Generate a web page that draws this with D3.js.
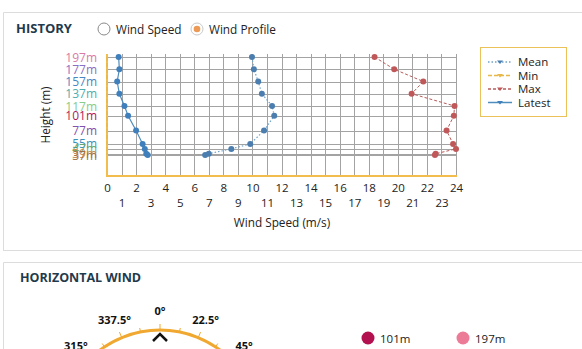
<!DOCTYPE html>
<html>
<head>
<meta charset="utf-8">
<script src="https://cdn.jsdelivr.net/npm/d3@7"></script>
<style>
  html, body { margin: 0; padding: 0; background: #fff; }
  svg { display: block; font-family: "Open Sans", "Noto Sans", sans-serif; }
</style>
</head>
<body>
<svg id="chart" width="582" height="349"></svg>
<script>
// Measurement heights (m) and wind speed profiles (m/s)
const heights   = [197, 177, 157, 137, 117, 101, 77, 55, 47, 39, 37];
const heightColors = ["#d97ba6", "#8b6fc2", "#4a86c2", "#4eaeae", "#86cc8a", "#b0185c",
                      "#8452ac", "#3a92bb", "#6aa870", "#c98a4e", "#a3703e"];
const meanSpeed   = [9.97, 10.1, 10.4, 10.65, 11.35, 11.5, 10.8, 9.85, 8.55, 7.0, 6.75];
const minSpeed    = [0, 0, 0, 0, 0, 0, 0, 0, 0, 0, 0];
const maxSpeed    = [18.4, 19.75, 21.75, 20.95, 23.9, 23.85, 23.35, 23.8, 24.0, 22.6, 22.55];
const latestSpeed = [0.8, 0.85, 0.7, 0.85, 1.2, 1.45, 2.0, 2.45, 2.6, 2.7, 2.8];
const evenTicks = [0, 2, 4, 6, 8, 10, 12, 14, 16, 18, 20, 22, 24];
const oddTicks  = [1, 3, 5, 7, 9, 11, 13, 15, 17, 19, 21, 23];
const compassLabels = [315, 337.5, 0, 22.5, 45];
const windLegend = ["101m", "197m"];
const windLegendColors = ["#b3104f", "#ec7b98"];

const svg = d3.select("#chart");

// ---- Card frames ----
const frame = svg.append("g").attr("stroke", "#dcdcdc").attr("fill", "none");
frame.append("path").attr("d", "M3.5,250.5 V12.5 H582");
frame.append("path").attr("d", "M3,250.5 H582");
frame.append("path").attr("d", "M3.5,349 V262.5 H582");

// ---- Header ----
svg.append("text").attr("x", 16).attr("y", 33)
  .attr("font-size", 13).attr("font-weight", 700).attr("fill", "#1f3a4d")
  .text("HISTORY");

const radios = [
  { x: 104, label: "Wind Speed", on: false },
  { x: 197, label: "Wind Profile", on: true }
];
radios.forEach(r => {
  svg.append("circle").attr("cx", r.x).attr("cy", 29).attr("r", 6)
    .attr("fill", "#fff").attr("stroke", r.on ? "#c9c9c9" : "#8a8a8a").attr("stroke-width", 1);
  if (r.on) svg.append("circle").attr("cx", r.x).attr("cy", 29).attr("r", 3.3).attr("fill", "#ec9a55");
  svg.append("text").attr("x", r.x + 12).attr("y", 33.5)
    .attr("font-size", 11.8).attr("fill", "#222").text(r.label);
});

// ---- Profile chart ----
const x = d3.scaleLinear().domain([0, 24]).range([107, 456]);
const y = d3.scaleLinear().domain([37, 197]).range([155, 57]);
const plotBottom = 176, plotTop = 54;

const grid = svg.append("g").attr("stroke", "#a3a3a3").attr("stroke-width", 1);
d3.range(0, 25).forEach(v => {
  grid.append("line").attr("x1", Math.round(x(v)) + 0.5).attr("x2", Math.round(x(v)) + 0.5)
    .attr("y1", plotTop).attr("y2", plotBottom);
});
heights.forEach(h => {
  grid.append("line").attr("x1", x(0)).attr("x2", x(24) + 1)
    .attr("y1", Math.round(y(h)) + 0.5).attr("y2", Math.round(y(h)) + 0.5);
});

// Orange axis frame
svg.append("path").attr("d", `M${x(0)},${plotTop} V${plotBottom} H${x(24) + 1}`)
  .attr("fill", "none").attr("stroke", "#f2bd4c").attr("stroke-width", 2);

// Y labels
svg.append("g").selectAll("text").data(heights).join("text")
  .attr("x", 97).attr("y", d => y(d) + 4.5)
  .attr("text-anchor", "end").attr("font-size", 12)
  .attr("fill", (d, i) => heightColors[i])
  .text(d => d + "m");

svg.append("text").attr("transform", "translate(50,115) rotate(-90)")
  .attr("text-anchor", "middle").attr("font-size", 11.8).attr("fill", "#222")
  .text("Height (m)");

// X axis labels in two staggered rows
const axisEven = d3.axisBottom(x).tickValues(evenTicks).tickSize(0).tickPadding(0).tickFormat(d3.format("d"));
const axisOdd  = d3.axisBottom(x).tickValues(oddTicks).tickSize(0).tickPadding(0).tickFormat(d3.format("d"));
[[axisEven, 184], [axisOdd, 199]].forEach(([ax, ty]) => {
  const g = svg.append("g").attr("transform", `translate(0,${ty})`).call(ax);
  g.select(".domain").remove();
  g.selectAll("text").attr("font-size", 11.5).attr("fill", "#222")
    .attr("font-family", "'Open Sans', 'Noto Sans', sans-serif");
});
svg.append("text").attr("x", 282).attr("y", 227).attr("text-anchor", "middle")
  .attr("font-size", 11.8).attr("fill", "#222").text("Wind Speed (m/s)");

// Series
const series = [
  { name: "Mean",   values: meanSpeed,   line: "#6fa3c9", dot: "#4b7eae", dash: "1.5,2", width: 1.2 },
  { name: "Min",    values: minSpeed,    line: "#e8b84a", dot: "#e8b84a", dash: "4,2",   width: 1.5 },
  { name: "Max",    values: maxSpeed,    line: "#b85b5b", dot: "#c0585a", dash: "3,2",   width: 1 },
  { name: "Latest", values: latestSpeed, line: "#4f8dbd", dot: "#3f7fbb", dash: null,    width: 1.2 }
];
const lineGen = d3.line().x(d => x(d[0])).y(d => y(d[1]));
series.forEach(s => {
  const pts = s.values.map((v, i) => [v, heights[i]]);
  svg.append("path").datum(pts).attr("d", lineGen)
    .attr("fill", "none").attr("stroke", s.line).attr("stroke-width", s.width)
    .attr("stroke-dasharray", s.dash);
  if (s.name !== "Min") {
    svg.append("g").selectAll("circle").data(pts).join("circle")
      .attr("cx", d => x(d[0])).attr("cy", d => y(d[1])).attr("r", 3)
      .attr("fill", s.dot);
  }
});

// Legend
const lg = svg.append("g");
lg.append("rect").attr("x", 480.5).attr("y", 47.5).attr("width", 86).attr("height", 69)
  .attr("fill", "#fff").attr("stroke", "#ebc25a").attr("stroke-width", 1);
series.forEach((s, i) => {
  const ly = 62 + i * 13.5;
  lg.append("line").attr("x1", 488).attr("x2", 512).attr("y1", ly).attr("y2", ly)
    .attr("stroke", s.line).attr("stroke-width", 1.5).attr("stroke-dasharray", s.dash);
  lg.append("path").attr("d", `M497,${ly - 1.5} L503,${ly - 1.5} L500,${ly + 2}Z`).attr("fill", s.dot);
  lg.append("text").attr("x", 518).attr("y", ly + 4).attr("font-size", 11.5).attr("fill", "#222").text(s.name);
});

// ---- Horizontal wind card ----
svg.append("text").attr("x", 20).attr("y", 282)
  .attr("font-size", 12.5).attr("font-weight", 700).attr("fill", "#1f3a4d")
  .text("HORIZONTAL WIND");

const cx = 160, cy = 430, R = 100;
const toRad = a => a * Math.PI / 180;
svg.append("circle").attr("cx", cx).attr("cy", cy).attr("r", R)
  .attr("fill", "none").attr("stroke", "#f0a830").attr("stroke-width", 3);
d3.range(0, 360, 11.25).forEach(a => {
  const len = (a % 22.5 === 0) ? 6 : 4;
  const s = Math.sin(toRad(a)), c = Math.cos(toRad(a));
  svg.append("line")
    .attr("x1", cx + R * s).attr("y1", cy - R * c)
    .attr("x2", cx + (R + len) * s).attr("y2", cy - (R + len) * c)
    .attr("stroke", "#f0a830").attr("stroke-width", 1);
});
compassLabels.forEach(a => {
  const s = Math.sin(toRad(a)), c = Math.cos(toRad(a));
  svg.append("text").attr("x", cx + 119 * s).attr("y", cy - 119 * c + 4)
    .attr("text-anchor", "middle").attr("font-size", 11).attr("font-weight", 700)
    .attr("fill", "#111").text(a + "°");
});
svg.append("path").attr("d", `M${cx - 7},${341} L${cx},${334} L${cx + 7},${341}`)
  .attr("fill", "none").attr("stroke", "#111").attr("stroke-width", 2.5);

windLegend.forEach((t, i) => {
  const lx = 368 + i * 95;
  svg.append("circle").attr("cx", lx).attr("cy", 338).attr("r", 6.5).attr("fill", windLegendColors[i]);
  svg.append("text").attr("x", lx + 12).attr("y", 342.5).attr("font-size", 11.5).attr("fill", "#222").text(t);
});
</script>
</body>
</html>
